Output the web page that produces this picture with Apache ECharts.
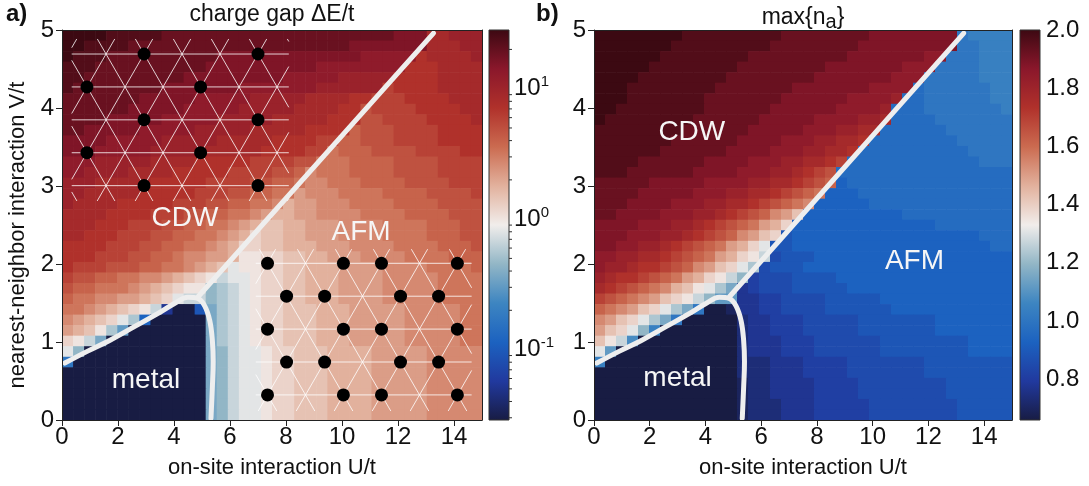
<!DOCTYPE html>
<html>
<head>
<meta charset="utf-8">
<script src="https://cdn.jsdelivr.net/npm/echarts@6/dist/echarts.min.js"></script>
<style>html,body{margin:0;background:#fff}#main{width:1089px;height:486px}</style>
</head>
<body>
<div id="main"></div>
<script>
var FONT = '"Liberation Sans", Arial, Helvetica, sans-serif';
var LEVELS = '0123456789abcdefghijklmnopqrstuvwxyz'; // 36 colour levels, 0 = bottom of colorbar

var uTicks = [0, 2, 4, 6, 8, 10, 12, 14];
var gapRange = [-1.54, 1.45];          // log10(dE/t)
var gapMajor = [-1, 0, 1];
var gapMinor = [0.03, 0.04, 0.05, 0.06, 0.07, 0.08, 0.09, 0.2, 0.3, 0.4, 0.5, 0.6, 0.7, 0.8, 0.9,
                2, 3, 4, 5, 6, 7, 8, 9, 20];
var occRange = [0.66, 2.0];
var occTicks = [0.8, 1.0, 1.2, 1.4, 1.6, 1.8, 2.0];

// cells, top row (V=5) first, 38 columns (U 0..15) x 37 rows (V 0..5), run-length: level char + count
var gapRows = [
  'z4 y5 x21 w3 t2 u3',
  'z2 y4 x20 w7 t3 u2',
  'z y3 x10 w13 v5 s t4 u',
  'y3 x10 w10 v8 s3 t4',
  'y2 x9 w9 v5 u5 s4 t4',
  'y x8 w7 v7 u6 r s4 t4',
  'x7 w5 v5 u5 t4 s2 r3 s4 t3',
  'x6 w5 v5 u5 t4 s2 q r4 s4 t2',
  'x4 w5 v5 u5 t5 s3 q2 r4 s4 t',
  'x2 w5 v5 u5 t5 s4 p q3 r4 s4',
  'w4 v5 u5 t5 s4 r2 p2 q3 r4 s4',
  'w3 v5 u5 t5 s4 r2 o p3 q4 r4 s2',
  'v3 u5 t4 s5 r4 q2 o3 p4 q4 r4',
  'v2 u4 t4 s5 r4 q2 p n o3 p4 q4 r4',
  'u3 t5 s5 r4 q2 p2 o n2 o3 p4 q4 r3',
  'u2 t5 s5 r3 q2 p2 o2 m n3 o4 p4 q4 r',
  'u t4 s5 r3 q2 p2 o2 n l m2 n3 o4 p4 q4',
  't4 s4 r3 q2 p2 o2 n m l2 m2 n4 o4 p4 q3',
  't3 s3 r3 q2 p2 o2 n m l k2 l2 m3 n4 o4 p3 q2',
  't2 s3 r3 q2 p2 o2 n m l j k2 l2 m3 n4 o4 p3 q2',
  's4 r3 q2 p2 o2 n m l j2 k2 l3 m3 n4 o4 p3 q',
  's3 r3 q2 p2 o n2 m2 l i2 j2 k2 l2 m3 n4 o4 p3',
  's r3 q3 p2 o2 n m l k h i2 j2 k2 l3 m4 n4 o4 p',
  'r q2 p2 o2 n2 m l k j i g h2 i j2 k2 l3 m4 n5 o4',
  'q p2 o3 n m l k j i2 e f g h i j2 k2 l3 m4 n5 o4',
  'p o2 n2 m2 l k j h g2 e f g h i j2 k2 l3 m4 n5 o4',
  'o2 n m l k j i g 3 02 6 d f g h i j2 k3 l3 m5 n5 o2',
  'n m l k j h f 7 05 d f g h i j2 k3 l3 m5 n5 o2',
  'm l k i f c 07 d f g h i j2 k3 l3 m5 n5 o2',
  'j i g d 09 d f g h i j2 k3 l3 m5 n5 o2',
  'h e 011 d e g h2 i j2 k3 l4 m5 n5',
  '9 012 d e g h2 i j2 k3 l4 m5 n5',
  '013 d e g h2 i j2 k3 l4 m5 n5',
  '013 d e g h2 i j2 k3 l4 m5 n5',
  '013 d e g h2 i j2 k3 l4 m5 n5',
  '013 d e g h2 i j2 k3 l4 m5 n5',
  '013 d e g h2 i j2 k3 l4 m5 n5'
];
var occRows = [
  'z8 y9 x8 w8 9 a4',
  'z7 y9 x8 w9 92 a3',
  'z6 y8 x9 w7 v2 93 a3',
  'z5 y8 x8 w7 v3 94 a3',
  'z4 y8 x8 w7 v3 95 a3',
  'z3 y8 x7 w7 v4 8 96 a2',
  'z3 y7 x7 w6 v4 u 82 96 a2',
  'z2 y8 x6 w6 v4 u 83 97 a',
  'z y8 x6 w5 v4 u2 t 84 97',
  'y8 x6 w5 v3 u2 t2 86 96',
  'y7 x6 w4 v3 u2 t2 s 88 95',
  'y6 x6 w4 v3 u2 t2 s 810 94',
  'y4 x6 w4 v3 u2 t2 s r 812 93',
  'y3 x6 w4 v3 u2 t s r q 816',
  'x5 w5 v4 u2 t2 s r q p 7 815',
  'x4 w5 v3 u2 t2 s r q p o 73 814',
  'x3 w4 v3 u2 t2 s r q p o n 75 813',
  'x2 w4 v3 u2 t s r q p n m k 79 810',
  'w4 v3 u2 t s r q p o m l j 713 87',
  'w3 v3 u2 t s r q p n m k j 6 717 83',
  'w2 v2 u2 t s r q p o m l j h 62 718 82',
  'v2 u2 t2 s r q p o m l j i g 5 63 718',
  'v u2 t s2 r q p n m k j h f 5 63 719',
  'u t s2 r q p o m l j i g e 4 53 64 716',
  't s r q p o n l k i h f d 3 4 53 65 715',
  'r q p o n m k j i g e c2 32 42 54 65 712',
  'p o n m k j h f d 9 02 1 32 42 54 66 711',
  'n m k j h f d 9 05 2 32 43 55 67 77',
  'm k j h e a 07 2 32 43 55 67 77',
  'k i g b 09 2 33 43 56 68 74',
  'h c 011 2 33 43 56 68 74',
  'a 012 2 22 33 44 57 68',
  '013 2 22 33 44 57 68',
  '013 1 22 34 44 58 66',
  '013 1 22 34 44 58 66',
  '013 1 23 33 45 58 65',
  '013 1 23 33 45 58 65'
];

// phase boundaries (U, V)
var domeLine = [[0.1, 0.73], [0.9, 0.88], [1.7, 1.02], [2.6, 1.2], [3.4, 1.36], [4.0, 1.49], [4.5, 1.575],
                [4.85, 1.56], [5.1, 1.46], [5.28, 1.27], [5.37, 1.02], [5.4, 0.75], [5.37, 0.42], [5.32, 0.02]];
var cdwAfmLine = [[4.86, 1.58], [13.27, 4.96]];

// lattice sketches: origin site U, V, clip U0, U1, V top, V bottom, rows
var latticeSets = [[2.93, 4.692, 0.346, 8.1, 4.885, 2.808, 5], [7.34, 2.009, 6.92, 14.63, 2.19, 0.115, 5]];
var latticeStep = 1.357;
var cdwDots = [[2.93, 4.692], [7.0, 4.692], [0.89, 4.27], [4.95, 4.27], [2.93, 3.849], [7.0, 3.849],
               [0.89, 3.427], [4.95, 3.427], [2.93, 3.005], [7.0, 3.005]];
var afmDots = [[7.34, 2.009], [10.05, 2.009], [11.41, 2.009], [14.12, 2.009],
               [8.02, 1.587], [9.38, 1.587], [12.09, 1.587], [13.45, 1.587],
               [7.34, 1.165], [10.05, 1.165], [11.41, 1.165], [14.12, 1.165],
               [8.02, 0.743], [9.38, 0.743], [12.09, 0.743], [13.45, 0.743],
               [7.34, 0.321], [10.05, 0.321], [11.41, 0.321], [14.12, 0.321]];
var labelsA = [{name: 'CDW', value: [4.39, 2.59]}, {name: 'AFM', value: [10.68, 2.41]}, {name: 'metal', value: [3.0, 0.51]}];
var labelsB = [{name: 'CDW', value: [3.51, 3.69]}, {name: 'AFM', value: [11.5, 2.03]}, {name: 'metal', value: [3.0, 0.54]}];

var balance = ['#181c43', '#21399e', '#1c62c0', '#3d85c1', '#92b6c6', '#f1edeb',
               '#e2b19d', '#cb6b50', '#b0312b', '#8a172b', '#3c0912'];

var NC = 38, NR = 37, DU = 15 / NC, DV = 5 / NR;

function decode(rows, range) {
  var out = [];
  rows.forEach(function (row, t) {
    var j = rows.length - 1 - t, i = 0;
    row.split(' ').forEach(function (tok) {
      var lev = LEVELS.indexOf(tok[0]);
      var n = tok.length > 1 ? parseInt(tok.slice(1), 10) : 1;
      for (var m = 0; m < n && i < NC; m++) {
        out.push([(i + 0.5) * DU, (j + 0.5) * DV, range[0] + lev * (range[1] - range[0]) / 35]);
        i++;
      }
    });
  });
  return out;
}

function renderCell(params, api) {
  var u = api.value(0), v = api.value(1);
  var a = api.coord([u - DU / 2, v + DV / 2]);
  var b = api.coord([u + DU / 2, v - DV / 2]);
  return {type: 'rect', shape: {x: a[0], y: a[1], width: b[0] - a[0] + 0.6, height: b[1] - a[1] + 0.6},
          style: {fill: api.visual('color')}};
}

function clipSeg(x1, y1, x2, y2, xl, xr) {
  var dx = x2 - x1, t0 = 0, t1 = 1;
  if (dx !== 0) {
    var ta = (xl - x1) / dx, tb = (xr - x1) / dx;
    t0 = Math.max(0, Math.min(ta, tb));
    t1 = Math.min(1, Math.max(ta, tb));
  }
  if (t0 >= t1) return null;
  return {x1: x1 + dx * t0, y1: y1 + (y2 - y1) * t0, x2: x1 + dx * t1, y2: y1 + (y2 - y1) * t1};
}

function renderLattice(params, api) {
  var o = api.coord([api.value(0), api.value(1)]);
  var lo = api.coord([api.value(2), api.value(4)]);
  var hi = api.coord([api.value(3), api.value(5)]);
  var a = api.size([latticeStep, 0])[0];
  var h = a * Math.sqrt(3) / 2, s = 1 / Math.sqrt(3);
  var kids = [];
  function seg(sh) {
    if (sh) kids.push({type: 'line', shape: sh, style: {stroke: 'rgba(255,255,255,0.8)', lineWidth: 1}});
  }
  for (var r = 0; r < api.value(6); r++) {
    seg({x1: lo[0], y1: o[1] + r * h, x2: hi[0], y2: o[1] + r * h});
  }
  for (var k = -14; k <= 14; k++) {
    var xs = o[0] + k * a;
    seg(clipSeg(xs + (lo[1] - o[1]) * s, lo[1], xs + (hi[1] - o[1]) * s, hi[1], lo[0], hi[0]));
    seg(clipSeg(xs - (lo[1] - o[1]) * s, lo[1], xs - (hi[1] - o[1]) * s, hi[1], lo[0], hi[0]));
  }
  return {type: 'group', children: kids};
}

function renderBar(minor) {
  return function (params, api) {
    var p = api.coord([0, api.value(1)]);
    var q = api.coord([1, api.value(0)]);
    var stops = balance.map(function (c, i) { return {offset: i / (balance.length - 1), color: c}; });
    var kids = [{type: 'rect', shape: {x: p[0], y: p[1], width: q[0] - p[0], height: q[1] - p[1]},
                 style: {fill: new echarts.graphic.LinearGradient(0, 1, 0, 0, stops), stroke: '#333', lineWidth: 1}}];
    minor.forEach(function (v) {
      var c = api.coord([1, v]);
      kids.push({type: 'line', shape: {x1: c[0], y1: c[1], x2: c[0] + 3, y2: c[1]}, style: {stroke: '#333', lineWidth: 1}});
    });
    return {type: 'group', children: kids};
  };
}

var lineStyle = {color: '#222', width: 1};
var tickLab = {fontSize: 24, color: '#111', fontFamily: FONT};
var nameStyle = {fontSize: 22, color: '#111', fontFamily: FONT};

function uAxis(g) {
  return {gridIndex: g, type: 'value', min: 0, max: 15, position: 'bottom', z: 5,
    axisLine: {onZero: false, lineStyle: lineStyle},
    axisTick: {customValues: uTicks, length: 6, lineStyle: lineStyle},
    axisLabel: Object.assign({customValues: uTicks, margin: 5}, tickLab),
    splitLine: {show: false},
    name: 'on-site interaction U/t', nameLocation: 'middle', nameGap: 37, nameTextStyle: nameStyle};
}
function vAxis(g, named) {
  return {gridIndex: g, type: 'value', min: 0, max: 5, interval: 1, position: 'left', z: 5,
    axisLine: {onZero: false, lineStyle: lineStyle},
    axisTick: {length: 6, lineStyle: lineStyle},
    axisLabel: Object.assign({margin: 8}, tickLab),
    splitLine: {show: false},
    name: named ? 'nearest-neighbor interaction V/t' : '', nameLocation: 'middle', nameGap: 33, nameRotate: 90,
    nameTextStyle: Object.assign({padding: [0, 20, 0, 0]}, nameStyle)};
}
function frameAxis(g, isX, lim) {
  return {gridIndex: g, type: 'value', min: 0, max: lim, position: isX ? 'top' : 'right', z: 5,
    axisLine: {onZero: false, lineStyle: lineStyle}, axisTick: {show: false}, axisLabel: {show: false}, splitLine: {show: false}};
}
function phaseLabels(xi, yi, data) {
  return {type: 'scatter', xAxisIndex: xi, yAxisIndex: yi, data: data, symbolSize: 1,
    itemStyle: {color: 'rgba(0,0,0,0)', opacity: 1},
    label: {show: true, position: 'inside', formatter: '{b}', fontSize: 28, color: '#f6f6f6', fontFamily: FONT},
    z: 6, silent: true};
}
function boundary(xi, yi, data, smooth) {
  return {type: 'line', xAxisIndex: xi, yAxisIndex: yi, data: data, smooth: smooth, showSymbol: false, symbol: 'none',
    lineStyle: {color: '#eeeeee', width: 5, cap: 'round'}, z: 4, silent: true};
}

var chart = echarts.init(document.getElementById('main'));
chart.setOption({
  animation: false,
  backgroundColor: '#fff',
  textStyle: {fontFamily: FONT},
  title: [
    {text: 'a)', left: 6, top: 2, padding: 0, textStyle: {fontSize: 24, fontWeight: 'bold', color: '#111', fontFamily: FONT}},
    {text: 'charge gap \u0394E/t', left: 272, top: 3, padding: 0, textAlign: 'center',
     textStyle: {fontSize: 23, fontWeight: 'normal', color: '#111', fontFamily: FONT}},
    {text: 'b)', left: 536, top: 2, padding: 0, textStyle: {fontSize: 24, fontWeight: 'bold', color: '#111', fontFamily: FONT}},
    {text: '{m|max{n}{s|a}{m|\u007d}', left: 803, top: 3, padding: 0, textAlign: 'center',
     textStyle: {fontSize: 23, fontWeight: 'normal', color: '#111', fontFamily: FONT,
       rich: {m: {fontSize: 23, color: '#111', fontFamily: FONT},
              s: {fontSize: 20, color: '#111', fontFamily: FONT, verticalAlign: 'bottom', padding: [9, 0, 0, 0]}}}}
  ],
  grid: [
    {left: 62, top: 30, width: 420, height: 390},
    {left: 489, top: 30, width: 20, height: 390},
    {left: 594, top: 30, width: 418, height: 390},
    {left: 1020, top: 30, width: 20, height: 390}
  ],
  xAxis: [
    uAxis(0), frameAxis(0, true, 15),
    {gridIndex: 1, type: 'value', min: 0, max: 1, show: false},
    uAxis(2), frameAxis(2, true, 15),
    {gridIndex: 3, type: 'value', min: 0, max: 1, show: false}
  ],
  yAxis: [
    vAxis(0, true), frameAxis(0, false, 5),
    {gridIndex: 1, type: 'value', min: gapRange[0], max: gapRange[1], position: 'right',
      axisLine: {show: false}, splitLine: {show: false},
      axisTick: {customValues: gapMajor, length: 6, lineStyle: lineStyle},
      axisLabel: {customValues: gapMajor, margin: 5,
        formatter: function (v) { return '{b|10}{e|' + Math.round(v) + '}'; },
        rich: {b: {fontSize: 24, color: '#111', fontFamily: FONT, lineHeight: 28},
               e: {fontSize: 15, color: '#111', fontFamily: FONT, lineHeight: 15, verticalAlign: 'top'}}}},
    vAxis(2, false), frameAxis(2, false, 5),
    {gridIndex: 3, type: 'value', min: occRange[0], max: occRange[1], position: 'right',
      axisLine: {show: false}, splitLine: {show: false},
      axisTick: {customValues: occTicks, length: 6, lineStyle: lineStyle},
      axisLabel: Object.assign({customValues: occTicks, margin: 6, formatter: function (v) { return v.toFixed(1); }}, tickLab)}
  ],
  visualMap: [
    {type: 'continuous', show: false, seriesIndex: 0, dimension: 2, min: gapRange[0], max: gapRange[1], inRange: {color: balance}},
    {type: 'continuous', show: false, seriesIndex: 1, dimension: 2, min: occRange[0], max: occRange[1], inRange: {color: balance}}
  ],
  series: [
    {type: 'custom', xAxisIndex: 0, yAxisIndex: 0, renderItem: renderCell, data: decode(gapRows, gapRange), z: 1, silent: true},
    {type: 'custom', xAxisIndex: 3, yAxisIndex: 3, renderItem: renderCell, data: decode(occRows, occRange), z: 1, silent: true},
    {type: 'custom', xAxisIndex: 0, yAxisIndex: 0, renderItem: renderLattice, data: latticeSets, z: 3, silent: true},
    {type: 'scatter', xAxisIndex: 0, yAxisIndex: 0, data: cdwDots.concat(afmDots), symbolSize: 13,
      itemStyle: {color: '#000', opacity: 1}, z: 4, silent: true},
    boundary(0, 0, domeLine, 0.4), boundary(0, 0, cdwAfmLine, false),
    boundary(3, 3, domeLine, 0.4), boundary(3, 3, cdwAfmLine, false),
    phaseLabels(0, 0, labelsA), phaseLabels(3, 3, labelsB),
    {type: 'custom', xAxisIndex: 2, yAxisIndex: 2, renderItem: renderBar(gapMinor.map(Math.log10)), data: [gapRange], silent: true},
    {type: 'custom', xAxisIndex: 5, yAxisIndex: 5, renderItem: renderBar([]), data: [occRange], silent: true}
  ]
});
</script>
</body>
</html>
